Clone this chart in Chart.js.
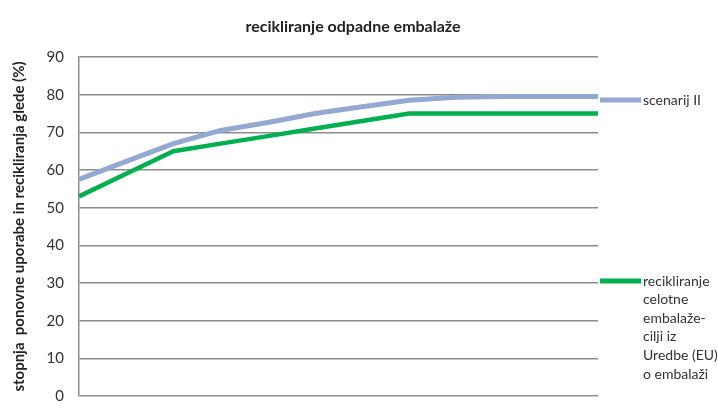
<!DOCTYPE html>
<html>
<head>
<meta charset="utf-8">
<script src="https://cdn.jsdelivr.net/npm/chart.js@4"></script>
<style>
  html, body { margin: 0; padding: 0; background: #fff; overflow: hidden; }
</style>
</head>
<body>
<canvas id="recChart" width="718" height="408"></canvas>
<script>
// category slots along the x axis (no labels shown in the original)
const categories = ["1", "2", "3", "4", "5", "6", "7", "8", "9", "10", "11", "12"];
const scenarijII = [57.5, 62.3, 67, 70.5, 72.6, 75, 76.8, 78.5, 79.3, 79.5, 79.5, 79.5];
const euTarget = [53, 59, 65, 67, 69, 71, 73, 75, 75, 75, 75, 75];
const yTicks = [0, 10, 20, 30, 40, 50, 60, 70, 80, 90];

const chartTitle = "recikliranje odpadne embalaže";
const yTitle = "stopnja  ponovne uporabe in recikliranja glede (%)";
const legendBlue = ["scenarij II"];
const legendGreen = ["recikliranje", "celotne", "embalaže-", "cilji iz", "Uredbe (EU)", "o embalaži"];

const BLUE = "#93a9d3";
const GREEN = "#00b04f";
const GRID = "#8c8c8c";

const sideText = {
    id: "sideText",
    afterDraw(chart) {
        const c = chart.ctx;
        c.save();
        // title
        c.fillStyle = "#222";
        c.font = "bold 16px Lato";
        c.textAlign = "center";
        c.textBaseline = "middle";
        c.fillText(chartTitle, 353, 27);
        // legend
        c.textAlign = "left";
        c.font = "14px Lato";
        c.fillStyle = "#333";
        c.lineCap = "butt";
        c.strokeStyle = BLUE;
        c.lineWidth = 5;
        c.beginPath(); c.moveTo(600, 100); c.lineTo(641, 100); c.stroke();
        c.fillText(legendBlue[0], 643, 100);
        c.strokeStyle = GREEN;
        c.beginPath(); c.moveTo(600, 281); c.lineTo(641, 281); c.stroke();
        legendGreen.forEach((t, i) => c.fillText(t, 643, 281 + i * 18.6));
        c.restore();
    }
};

const ctx = document.getElementById("recChart").getContext("2d");
const recChart = new Chart(ctx, {
    type: "line",
    data: {
        labels: categories,
        datasets: [{
            label: "scenarij II",
            data: scenarijII,
            borderColor: BLUE,
            borderWidth: 5,
            pointRadius: 0,
            tension: 0
        }, {
            label: "recikliranje celotne embalaže-cilji iz Uredbe (EU) o embalaži",
            data: euTarget,
            borderColor: GREEN,
            borderWidth: 4.5,
            pointRadius: 0,
            tension: 0
        }]
    },
    options: {
        responsive: false,
        animation: false,
        layout: { padding: { top: 57, right: 120, bottom: 12, left: 0 } },
        plugins: {
            legend: { display: false },
            title: { display: false },
            tooltip: { enabled: false }
        },
        scales: {
            x: { display: false, offset: false },
            y: {
                min: 0,
                max: 90,
                afterBuildTicks: axis => { axis.ticks = yTicks.map(v => ({ value: v })); },
                afterFit: axis => { axis.width = 79; },
                // invisible tick marks push the labels away from the axis
                grid: { color: GRID, lineWidth: 1.5, drawTicks: true, tickLength: 12, tickColor: "rgba(0,0,0,0)" },
                border: { color: GRID, width: 1.5 },
                ticks: {
                    color: "#333",
                    font: { family: "Lato", size: 15 },
                    padding: 3
                },
                title: {
                    display: true,
                    text: yTitle,
                    color: "#222",
                    font: { family: "Lato", size: 15, weight: "bold" },
                    padding: { top: 10, bottom: 0 }
                }
            }
        }
    },
    plugins: [sideText]
});
</script>
</body>
</html>
